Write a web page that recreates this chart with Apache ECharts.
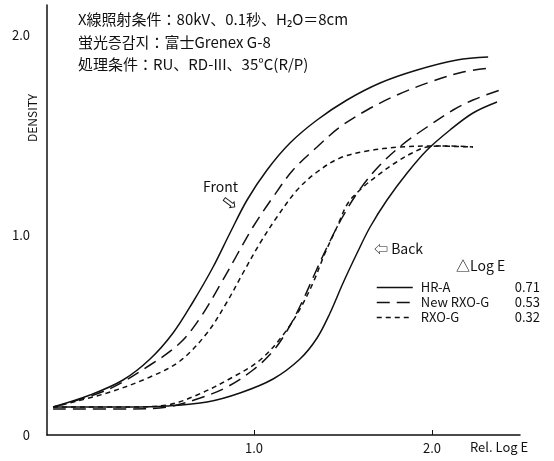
<!DOCTYPE html>
<html>
<head>
<meta charset="utf-8">
<script src="https://cdn.jsdelivr.net/npm/echarts@6/dist/echarts.min.js"></script>
<style>
  html, body { margin: 0; padding: 0; background: #fff; }
  #chart { width: 554px; height: 461px; }
</style>
</head>
<body>
<div id="chart"></div>
<script>
// ******* Data (Rel. Log E, DENSITY) *******
var hrFront = [[-0.129,0.14],[0.079,0.20],[0.264,0.275],[0.416,0.38],[0.545,0.51],[0.657,0.665],[0.770,0.84],[0.865,1.01],[0.961,1.175],[1.073,1.325],[1.202,1.46],[1.354,1.575],[1.522,1.675],[1.708,1.76],[1.916,1.825],[2.140,1.875],[2.315,1.89]];
var newFront = [[-0.129,0.14],[0.174,0.225],[0.416,0.35],[0.584,0.46],[0.697,0.585],[0.809,0.75],[0.904,0.90],[0.994,1.04],[1.107,1.19],[1.219,1.325],[1.354,1.44],[1.483,1.54],[1.635,1.625],[1.803,1.70],[1.989,1.765],[2.174,1.815],[2.326,1.835]];
var rxoFront = [[-0.129,0.14],[0.174,0.21],[0.416,0.29],[0.584,0.37],[0.736,0.51],[0.848,0.665],[0.938,0.81],[1.034,0.96],[1.129,1.09],[1.242,1.225],[1.354,1.315],[1.483,1.385],[1.635,1.42],[1.820,1.44],[2.006,1.445],[2.230,1.44]];
var hrBack = [[-0.129,0.14],[0.300,0.14],[0.511,0.145],[0.736,0.165],[0.921,0.21],[1.107,0.28],[1.258,0.38],[1.354,0.485],[1.427,0.61],[1.500,0.76],[1.579,0.91],[1.652,1.04],[1.747,1.175],[1.860,1.31],[1.972,1.425],[2.101,1.525],[2.230,1.61],[2.365,1.665]];
var newBack = [[-0.129,0.13],[0.300,0.13],[0.511,0.14],[0.697,0.185],[0.848,0.24],[0.994,0.325],[1.107,0.42],[1.191,0.53],[1.270,0.665],[1.343,0.81],[1.416,0.95],[1.494,1.085],[1.584,1.215],[1.697,1.34],[1.831,1.45],[1.972,1.54],[2.118,1.625],[2.230,1.675],[2.382,1.725]];
var rxoBack = [[-0.129,0.14],[0.300,0.14],[0.511,0.15],[0.680,0.20],[0.882,0.29],[1.034,0.375],[1.163,0.50],[1.258,0.63],[1.331,0.76],[1.399,0.91],[1.466,1.04],[1.528,1.16],[1.607,1.235],[1.697,1.30],[1.792,1.36],[1.888,1.41],[1.972,1.44],[2.101,1.445],[2.230,1.44]];

var screenNames = ['HR-A', 'New RXO-G', 'RXO-G'];
var deltaLogE = ['0.71', '0.53', '0.32'];
var xTicks = [1, 2];
var yTicks = [0, 1, 2];
var conditionLines = [
    'X線照射条件：80kV、0.1秒、H₂O＝8cm',
    '蛍光증감지：富士Grenex G-8',
    '処理条件：RU、RD-III、35°C(R/P)'
];

var INK = '#111';
var FONT = '"Noto Sans CJK JP", "Noto Sans", sans-serif';
var dashOf = { 'HR-A': 'solid', 'New RXO-G': [13, 7], 'RXO-G': [5, 4] };

function curve(name, data) {
    return {
        name: name,
        type: 'line',
        data: data,
        smooth: 0.35,
        showSymbol: false,
        symbol: 'none',
        silent: true,
        lineStyle: { color: INK, width: 1.5, type: dashOf[name] },
        itemStyle: { color: INK }
    };
}

var myChart = echarts.init(document.getElementById('chart'), null, { renderer: 'canvas' });

var option = {
    animation: false,
    backgroundColor: '#fff',
    textStyle: { fontFamily: FONT, color: INK },
    grid: { left: 47, right: 34, top: 5, bottom: 26 },
    xAxis: {
        type: 'value',
        min: -0.163,
        max: 2.494,
        splitLine: { show: false },
        axisLine: { onZero: false, lineStyle: { color: INK, width: 1.5 } },
        axisTick: { show: true, inside: true, length: 5, customValues: xTicks, lineStyle: { color: INK } },
        axisLabel: {
            customValues: xTicks, margin: 7, fontSize: 13, color: INK, fontFamily: FONT,
            formatter: function (v) { return v.toFixed(1); }
        }
    },
    yAxis: {
        type: 'value',
        min: 0,
        max: 2.15,
        splitLine: { show: false },
        axisLine: { show: true, onZero: false, lineStyle: { color: INK, width: 1.5 } },
        axisTick: { show: false },
        axisLabel: {
            customValues: yTicks, margin: 17, fontSize: 13, color: INK, fontFamily: FONT,
            formatter: function (v) { return v === 0 ? '0' : v.toFixed(1); }
        }
    },
    legend: {
        orient: 'vertical',
        left: 371,
        top: 275,
        itemWidth: 36,
        itemHeight: 10,
        itemGap: 0,
        selectedMode: false,
        data: screenNames,
        itemStyle: { opacity: 0 },
        lineStyle: { width: 1.5 },
        textStyle: {
            fontFamily: FONT, fontSize: 13, color: INK, padding: [0, 0, 0, 3], lineHeight: 15,
            rich: {
                n: { width: 94, fontSize: 13, lineHeight: 15, fontFamily: FONT, color: INK },
                v: { fontSize: 13, lineHeight: 15, fontFamily: FONT, color: INK }
            }
        },
        formatter: function (name) {
            return '{n|' + name + '}{v|' + deltaLogE[screenNames.indexOf(name)] + '}';
        }
    },
    graphic: [
        { type: 'text', left: 78, top: 12, style: { text: conditionLines[0], font: '15px ' + FONT, fill: INK } },
        { type: 'text', left: 78, top: 35, style: { text: conditionLines[1], font: '15px ' + FONT, fill: INK } },
        { type: 'text', left: 78, top: 57, style: { text: conditionLines[2], font: '15px ' + FONT, fill: INK } },
        { type: 'text', x: 32, y: 118, rotation: Math.PI / 2, style: { text: 'DENSITY', font: '12px ' + FONT, fill: INK, align: 'center', verticalAlign: 'middle' } },
        { type: 'text', x: 203, y: 187, style: { text: 'Front', font: '14px ' + FONT, fill: INK, verticalAlign: 'middle' } },
        { type: 'text', x: 229, y: 204, rotation: -0.65, style: { text: '⇨', font: '19px DejaVu Sans', fill: INK, align: 'center', verticalAlign: 'middle' } },
        { type: 'text', x: 374, y: 249, style: { text: '⇦ Back', font: '14px ' + FONT, fill: INK, verticalAlign: 'middle' } },
        { type: 'text', x: 456, y: 266, style: { text: '△Log E', font: '14px ' + FONT, fill: INK, verticalAlign: 'middle' } },
        { type: 'text', x: 470, y: 447, style: { text: 'Rel. Log E', font: '13px ' + FONT, fill: INK, verticalAlign: 'middle' } }
    ],
    series: [
        curve('HR-A', hrFront),
        curve('New RXO-G', newFront),
        curve('RXO-G', rxoFront),
        curve('HR-A', hrBack),
        curve('New RXO-G', newBack),
        curve('RXO-G', rxoBack)
    ]
};

myChart.setOption(option);
</script>
</body>
</html>
